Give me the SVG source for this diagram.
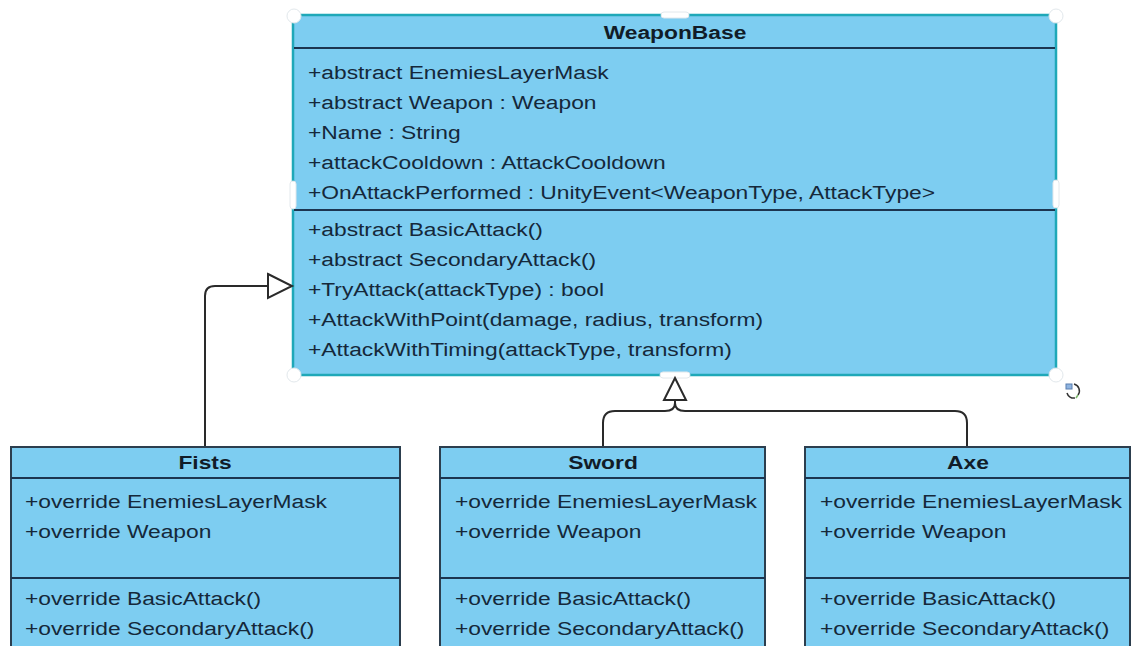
<svg xmlns="http://www.w3.org/2000/svg" width="1138" height="646" viewBox="0 0 1138 646">
<style>
.box{fill:#7dcdf1;stroke:#2c3e4e;stroke-width:2}
.sel{fill:#7dcdf1;stroke:#1fa8b8;stroke-width:2.5}
.sep{stroke:#1c3550;stroke-width:2}
.t{font-family:"Liberation Sans",Arial,sans-serif;font-size:19px;fill:#15283a}
.h{font-family:"Liberation Sans",Arial,sans-serif;font-size:19px;font-weight:bold;fill:#111c28;text-anchor:middle}
.edge{fill:none;stroke:#2a2a2a;stroke-width:2}
.tri{fill:#ffffff;stroke:#2a2a2a;stroke-width:2;stroke-linejoin:miter}
.hc{fill:#ffffff;stroke:#e2e8ec;stroke-width:1}
</style>
<rect width="1138" height="646" fill="#ffffff"/>
<g id="WeaponBase">
<rect class="sel" x="293" y="15" width="763" height="360"/>
<line class="sep" x1="294" y1="48" x2="1055" y2="48"/>
<line class="sep" x1="294" y1="210" x2="1055" y2="210"/>
<text class="h" transform="matrix(1.2 0 0 1 675 39)">WeaponBase</text>
<text class="t" transform="matrix(1.2 0 0 1 308 79)">+abstract EnemiesLayerMask</text>
<text class="t" transform="matrix(1.2 0 0 1 308 109)">+abstract Weapon : Weapon</text>
<text class="t" transform="matrix(1.2 0 0 1 308 139)">+Name : String</text>
<text class="t" transform="matrix(1.2 0 0 1 308 169)">+attackCooldown : AttackCooldown</text>
<text class="t" transform="matrix(1.2 0 0 1 308 199)">+OnAttackPerformed : UnityEvent&lt;WeaponType, AttackType&gt;</text>
<text class="t" transform="matrix(1.2 0 0 1 308 236)">+abstract BasicAttack()</text>
<text class="t" transform="matrix(1.2 0 0 1 308 266)">+abstract SecondaryAttack()</text>
<text class="t" transform="matrix(1.2 0 0 1 308 296)">+TryAttack(attackType) : bool</text>
<text class="t" transform="matrix(1.2 0 0 1 308 326)">+AttackWithPoint(damage, radius, transform)</text>
<text class="t" transform="matrix(1.2 0 0 1 308 356)">+AttackWithTiming(attackType, transform)</text>
<circle class="hc" cx="294" cy="16" r="7"/>
<circle class="hc" cx="1056" cy="16" r="7"/>
<circle class="hc" cx="294" cy="375" r="7"/>
<circle class="hc" cx="1056" cy="375" r="7"/>
<rect class="hc" x="661" y="12" width="28" height="6" rx="3"/>
<rect class="hc" x="660" y="372" width="30" height="6" rx="3"/>
<rect class="hc" x="290" y="181" width="6" height="28" rx="3"/>
<rect class="hc" x="1053" y="180" width="6" height="28" rx="3"/>
<g transform="translate(1073 393)" fill="none" stroke-width="1.5">
<rect x="-7" y="-9" width="6" height="5" fill="#8fb4e0" stroke="#5a7fb0" stroke-width="1"/>
<path d="M1,-9 A7,7 0 0 1 5,2" stroke="#333"/>
<path d="M2,5 A7,7 0 0 1 -6,0" stroke="#333"/>
<path d="M5,2 L3,5" stroke="#7ab86a"/>
</g>
</g>
<g id="connectors">
<path class="edge" d="M205,447 V296 Q205,286 215,286 H268"/>
<polygon class="tri" points="268,274 292,286 268,298"/>
<path class="edge" d="M603,447 V423 Q603,411 615,411 H665 Q675,411 675,403 V400"/>
<path class="edge" d="M967,447 V423 Q967,411 955,411 H685 Q675,411 675,403"/>
<polygon class="tri" points="675,378 686,400 664,400"/>
</g>
<g id="Fists">
<rect class="box" x="11" y="447" width="389" height="215"/>
<line class="sep" x1="11" y1="478" x2="400" y2="478"/>
<line class="sep" x1="11" y1="578" x2="400" y2="578"/>
<text class="h" transform="matrix(1.2 0 0 1 205 469)">Fists</text>
<text class="t" transform="matrix(1.2 0 0 1 25 508)">+override EnemiesLayerMask</text>
<text class="t" transform="matrix(1.2 0 0 1 25 538)">+override Weapon</text>
<text class="t" transform="matrix(1.2 0 0 1 25 605)">+override BasicAttack()</text>
<text class="t" transform="matrix(1.2 0 0 1 25 635)">+override SecondaryAttack()</text>
</g>
<g id="Sword">
<rect class="box" x="440" y="447" width="325" height="215"/>
<line class="sep" x1="440" y1="478" x2="765" y2="478"/>
<line class="sep" x1="440" y1="578" x2="765" y2="578"/>
<text class="h" transform="matrix(1.2 0 0 1 603 469)">Sword</text>
<text class="t" transform="matrix(1.2 0 0 1 455 508)">+override EnemiesLayerMask</text>
<text class="t" transform="matrix(1.2 0 0 1 455 538)">+override Weapon</text>
<text class="t" transform="matrix(1.2 0 0 1 455 605)">+override BasicAttack()</text>
<text class="t" transform="matrix(1.2 0 0 1 455 635)">+override SecondaryAttack()</text>
</g>
<g id="Axe">
<rect class="box" x="805" y="447" width="325" height="215"/>
<line class="sep" x1="805" y1="478" x2="1130" y2="478"/>
<line class="sep" x1="805" y1="578" x2="1130" y2="578"/>
<text class="h" transform="matrix(1.2 0 0 1 968 469)">Axe</text>
<text class="t" transform="matrix(1.2 0 0 1 820 508)">+override EnemiesLayerMask</text>
<text class="t" transform="matrix(1.2 0 0 1 820 538)">+override Weapon</text>
<text class="t" transform="matrix(1.2 0 0 1 820 605)">+override BasicAttack()</text>
<text class="t" transform="matrix(1.2 0 0 1 820 635)">+override SecondaryAttack()</text>
</g>
</svg>
